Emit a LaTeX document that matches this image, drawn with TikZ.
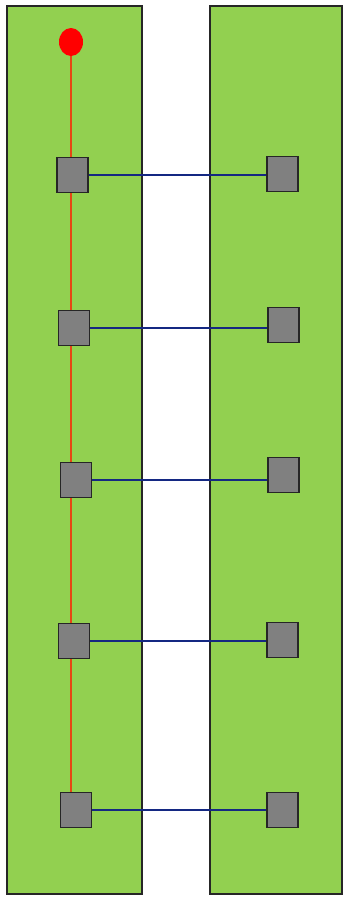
\documentclass[tikz,border=0pt]{standalone}
\usepackage{tikz}
\usetikzlibrary{shapes.geometric,backgrounds}

\definecolor{padgreen}{RGB}{146,208,80}
\definecolor{pingray}{RGB}{128,128,128}
\definecolor{wireblue}{RGB}{20,40,130}
\definecolor{traceorange}{RGB}{230,70,20}

\begin{document}
\begin{tikzpicture}[
    x=1pt, y=-1pt,
    board/.style={draw=black!85, fill=padgreen, line width=2.6pt},
    pin/.style={draw=black!85, fill=pingray, line width=1.8pt, inner sep=0pt, minimum width=31pt, minimum height=35pt},
    wire/.style={wireblue, line width=2.2pt},
    trace/.style={traceorange, line width=2.2pt}
]
\useasboundingbox (0,0) rectangle (343,897);

\node[ellipse, fill=red, inner sep=0pt, minimum width=24pt, minimum height=28pt] (dot) at (71,42) {};

% left column
\node[pin] (l1) at (72.5,175) {};
\node[pin] (l2) at (74,328) {};
\node[pin] (l3) at (76,480) {};
\node[pin] (l4) at (74,641) {};
\node[pin] (l5) at (76,810) {};

% right column
\node[pin] (r1) at (282.5,174) {};
\node[pin] (r2) at (283.5,325) {};
\node[pin] (r3) at (283.5,475) {};
\node[pin] (r4) at (282.5,640) {};
\node[pin] (r5) at (282.5,810) {};

\begin{scope}[on background layer]
\draw[board] (7,6) rectangle (142,894);
\draw[board] (210,6) rectangle (342,894);
\draw[trace] (dot) -- (dot |- l5);
\end{scope}

\foreach \i in {1,...,5}
    \draw[wire] (l\i.east) -- (l\i.east -| r\i.west);
\end{tikzpicture}
\end{document}
